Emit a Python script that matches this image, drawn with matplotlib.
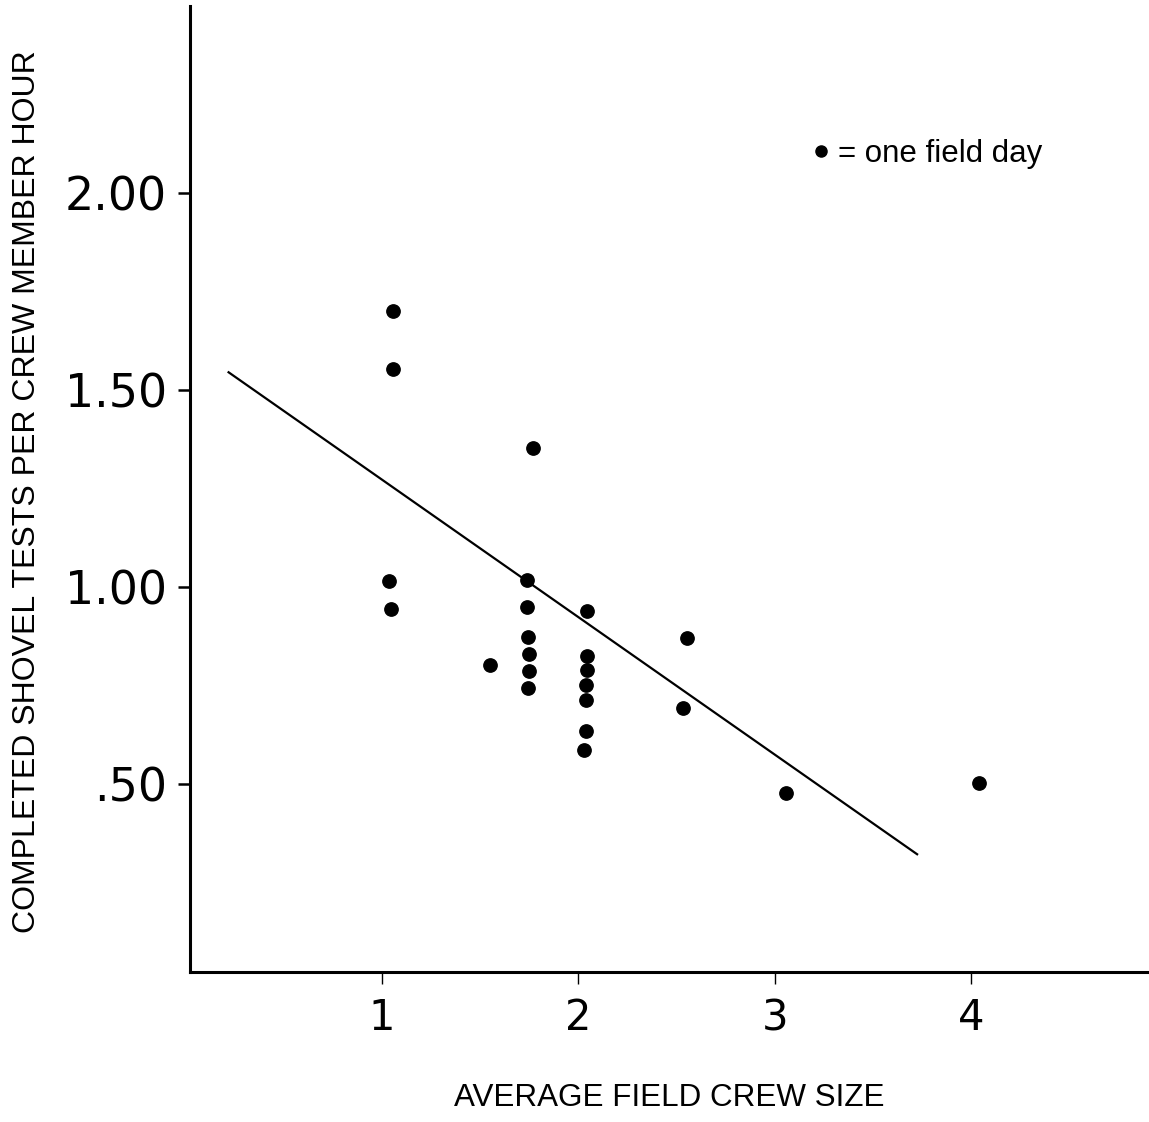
import matplotlib
matplotlib.use("Agg")
import matplotlib.pyplot as plt
from matplotlib.lines import Line2D

# Field days: average crew size vs. completed shovel tests per crew member hour
crew_size = [1.058, 1.054, 1.037, 1.046, 1.550, 1.770,
             1.737, 1.737, 1.743, 1.748, 1.748, 1.743,
             2.042, 2.044, 2.044, 2.039, 2.039, 2.037, 2.029,
             2.553, 2.533, 3.057, 4.041]
tests_per_hour = [1.700, 1.552, 1.015, 0.944, 0.802, 1.353,
                  1.018, 0.949, 0.873, 0.830, 0.788, 0.745,
                  0.940, 0.826, 0.790, 0.752, 0.714, 0.635, 0.586,
                  0.872, 0.693, 0.479, 0.503]

# Fitted trend line (end points)
trend_x = [0.214, 3.729]
trend_y = [1.546, 0.321]

x_ticks = [1, 2, 3, 4]
x_tick_labels = ["1", "2", "3", "4"]
y_ticks = [0.5, 1.0, 1.5, 2.0]
y_tick_labels = [".50", "1.00", "1.50", "2.00"]

label_font = ["Liberation Sans", "DejaVu Sans"]

fig = plt.figure(figsize=(11.49, 11.22), dpi=100)
ax = fig.add_axes([0.1654, 0.134, 0.8346, 0.8607])

ax.set_xlim(0.0224, 4.905)
ax.set_ylim(0.025, 2.473)

ax.plot(trend_x, trend_y, color="black", linewidth=1.6, solid_capstyle="butt")
ax.plot(crew_size, tests_per_hour, linestyle="none", marker="o",
        markersize=9.6, color="black")

for side in ("top", "right"):
    ax.spines[side].set_visible(False)
for side in ("left", "bottom"):
    ax.spines[side].set_linewidth(2.2)

ax.set_xticks(x_ticks)
ax.set_xticklabels(x_tick_labels)
ax.set_yticks(y_ticks)
ax.set_yticklabels(y_tick_labels)
ax.tick_params(axis="y", direction="out", length=8.5, width=1.8, pad=8,
               labelsize=33)
ax.tick_params(axis="x", direction="out", length=8.5, width=1.0, pad=10,
               labelsize=30)

ax.set_ylabel("COMPLETED SHOVEL TESTS PER CREW MEMBER HOUR",
              family=label_font, fontsize=23, ha="center", va="center")
ax.yaxis.set_label_coords(-0.17, 0.497)
ax.set_xlabel("AVERAGE FIELD CREW SIZE", family=label_font, fontsize=22.6,
              ha="center", va="center")
ax.xaxis.set_label_coords(0.4995, -0.131)

key = Line2D([], [], linestyle="none", marker="o", markersize=8,
             color="black")
ax.legend([key], ["= one field day"], loc="center left",
          bbox_to_anchor=(0.648, 0.847), frameon=False, borderpad=0,
          borderaxespad=0, handlelength=0.6, handletextpad=0.25,
          prop={"family": label_font, "size": 22.5})

fig.savefig("out.png", dpi=100, facecolor="white")
